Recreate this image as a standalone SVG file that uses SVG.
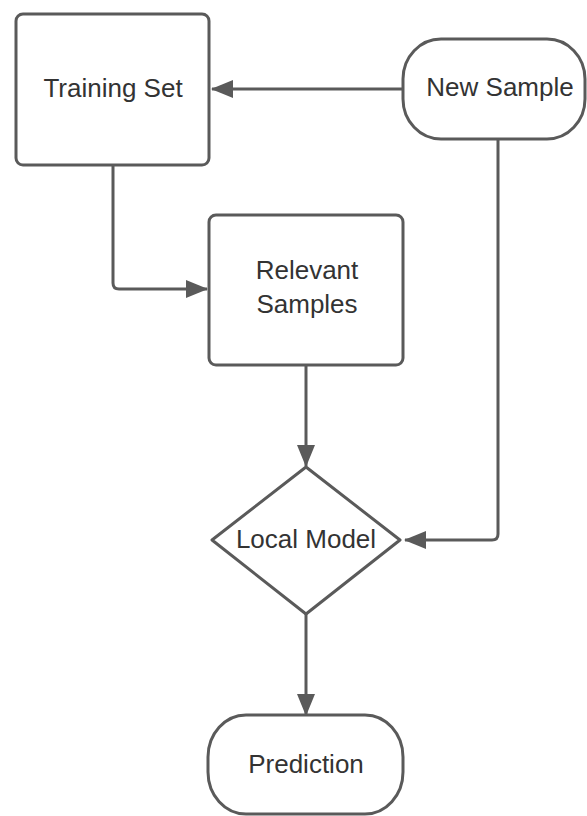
<svg xmlns="http://www.w3.org/2000/svg" width="587" height="816" viewBox="0 0 587 816">
  <style>
    .shape { fill: #ffffff; stroke: #5a5a5a; stroke-width: 3; }
    .label { font-family: "Liberation Sans", Arial, sans-serif; font-size: 26px; fill: #333333; text-anchor: middle; }
    .edge { fill: none; stroke: #5a5a5a; stroke-width: 3; marker-end: url(#arrow); }
  </style>
  <defs>
    <marker id="arrow" markerUnits="userSpaceOnUse" markerWidth="22" markerHeight="18" viewBox="0 0 22 18" refX="21" refY="9" orient="auto">
      <path d="M0,0 L22,9 L0,18 Z" fill="#5a5a5a"/>
    </marker>
  </defs>

  <rect width="587" height="816" fill="#ffffff"/>

  <g id="connectors">
    <path class="edge" d="M403,89 H212"/>
    <path class="edge" d="M113,165 V283 Q113,289 119,289 H207"/>
    <path class="edge" d="M306,365 V466"/>
    <path class="edge" d="M498,139 V534 Q498,540 492,540 H405"/>
    <path class="edge" d="M306,614 V715"/>
  </g>

  <g id="training-set">
    <rect class="shape" x="16" y="14" width="193" height="151" rx="7"/>
    <text class="label" x="113" y="97">Training Set</text>
  </g>

  <g id="new-sample">
    <rect class="shape" x="403" y="39" width="182" height="100" rx="38" ry="40"/>
    <text class="label" x="500" y="96">New Sample</text>
  </g>

  <g id="relevant-samples">
    <rect class="shape" x="209" y="215" width="194" height="150" rx="7"/>
    <text class="label" x="307" y="279">Relevant</text>
    <text class="label" x="307" y="313">Samples</text>
  </g>

  <g id="local-model">
    <path class="shape" d="M306,467 L400,540 L306,614 L212,540 Z" stroke-linejoin="round"/>
    <text class="label" x="306" y="548">Local Model</text>
  </g>

  <g id="prediction">
    <rect class="shape" x="208" y="715" width="195" height="99" rx="38" ry="42"/>
    <text class="label" x="306" y="773">Prediction</text>
  </g>
</svg>
